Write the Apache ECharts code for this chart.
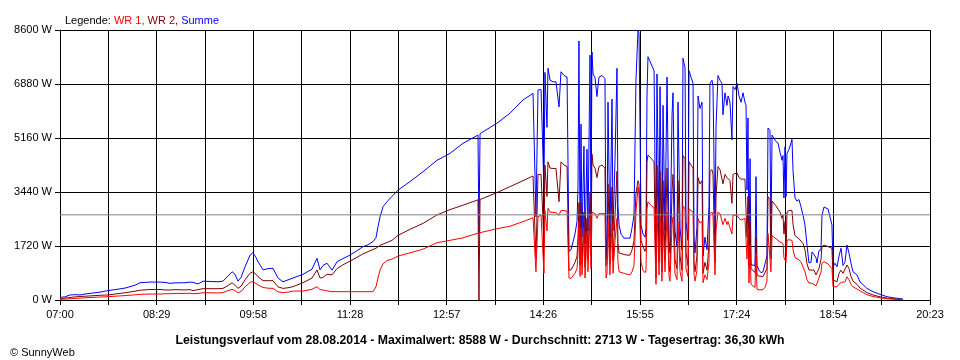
<!DOCTYPE html>
<html>
<head>
<meta charset="utf-8">
<script src="https://cdn.jsdelivr.net/npm/echarts@6/dist/echarts.min.js"></script>
<style>
html,body{margin:0;padding:0;background:#fff;}
#c{width:960px;height:360px;}
</style>
</head>
<body>
<div id="c"></div>
<script>
// minutes after 07:00
const times = [
0,4.6,9.2,13.8,18.5,23.1,27.7,36.9,44.3,50.8,60.0,69.2,73.8,83.1,92.3,96.9,101.5,106.1,115.4,120.0,
122.8,127.4,132.0,138.4,145.8,150.4,155.1,158.8,161.5,164.3,167.1,170.8,175.4,178.1,180.9,182.8,187.4,192.0,196.6,201.2,
205.8,210.4,215.1,224.3,232.6,237.2,240.0,242.7,246.4,251.1,255.7,261.2,267.7,274.1,279.7,284.3,288.9,291.7,293.5,295.4,
298.1,301.8,306.4,312.0,323.0,335.0,348.0,360.0,372.0,385.8,386.7,387.7,403.3,415.3,427.3,436.6,
438.4,439.3,441.2,444.0,445.8,446.7,447.6,449.5,450.4,452.3,455.0,457.8,459.6,460.6,462.4,465.2,468.0,469.8,471.7,473.5,
475.3,477.2,478.1,479.0,480.0,480.9,481.8,483.6,484.6,486.4,487.3,489.2,490.1,491.0,492.0,493.8,495.6,497.5,500.3,503.0,
504.0,504.9,505.8,507.6,509.5,510.4,512.3,514.1,515.0,516.0,517.8,520.6,523.3,526.1,528.0,529.8,531.6,533.5,534.4,536.3,
538.1,540.0,540.9,541.8,542.7,544.6,546.4,548.3,550.1,551.0,552.9,553.8,555.6,556.6,558.4,560.3,562.1,563.0,564.9,565.8,
567.6,569.5,570.4,572.3,574.1,575.0,576.9,577.8,579.6,580.6,582.4,584.3,585.2,586.1,587.9,588.9,590.7,592.6,593.5,595.3,
597.2,599.0,599.9,601.8,602.7,604.6,605.5,607.3,609.2,611.0,611.9,613.8,615.6,616.6,618.4,620.2,621.2,623.0,624.9,626.7,
628.6,630.4,632.2,633.2,634.1,635.0,635.9,636.9,637.8,639.6,641.5,642.4,643.3,645.2,647.0,648.9,650.7,652.5,653.5,655.3,
656.2,657.2,659.0,660.8,662.7,664.6,666.4,667.3,668.2,669.2,670.1,671.0,672.9,674.7,675.6,676.6,678.4,680.2,682.1,683.9,
685.8,687.6,689.5,691.3,693.2,694.1,695.9,697.8,698.7,700.5,702.4,703.3,705.2,707.0,708.9,710.7,712.5,713.5,715.3,717.2,
719.0,720.9,722.7,724.5,726.4,728.2,730.1,731.9,735.6,738.4,744.8,750.4,756.9,763.3,768.9,772.5,778.1
];
// Summe (blue)
const summe = [
85,100,160,170,160,190,210,250,300,330,380,470,550,570,570,560,530,545,550,570,
560,510,600,590,580,600,760,900,820,600,720,1060,1430,1510,1350,1220,960,1000,1010,700,
580,640,700,820,980,1330,960,1100,1170,950,1220,1320,1430,1570,1700,1760,1860,1990,2335,2650,
2970,3130,3300,3500,3770,4085,4450,4670,4990,5255,2120,5300,5630,5950,6370,6580,
6600,2650,6690,6700,6750,3500,7250,5500,7380,7000,6950,6950,6900,6150,7270,7150,7100,1550,1600,1850,
2100,2500,3600,8250,1900,5600,2000,4900,1800,4800,2200,7800,2500,7900,7200,7080,6480,7100,7150,7050,
1300,2100,6300,2000,6400,2200,4500,7380,3000,2400,2100,1970,1970,1970,2300,2710,7000,8588,8500,2400,
2100,2000,2300,6530,7750,7600,7450,7300,1200,7200,2000,6800,1500,6200,2200,7100,1900,1500,5900,6600,
2200,1700,6300,2300,1600,7700,7400,2500,1900,7300,7100,6900,2000,1500,2300,6500,6100,6300,1400,2000,
1600,3000,6900,7000,6800,2100,5500,7150,7000,6900,5900,6600,6200,6500,6300,5100,6800,6700,6900,6500,
6300,6600,6300,6200,3500,5800,1350,4500,1120,1120,1100,3930,1100,950,870,900,1150,1400,5480,5400,
2000,5250,5300,5050,5000,4700,4450,4600,3250,4880,3300,4670,4800,5000,5120,4100,3250,3150,3200,2970,
2700,2390,1750,1180,1200,1530,1450,1340,1180,1570,1600,2700,2960,2900,2900,2870,2390,1060,1170,1060,
1400,1650,1100,1200,1750,1500,1170,900,800,580,370,265,180,105,70,55,30
];
// WR 2 (dark red)
const wr2 = [
30,60,80,100,110,120,130,150,160,190,230,280,310,335,335,320,320,330,320,330,
300,330,360,360,360,370,460,550,470,370,440,650,850,900,820,740,615,615,615,420,
370,390,425,550,700,955,700,720,820,800,1000,1120,1240,1360,1470,1540,1610,1650,1700,1740,
1780,1830,1900,2060,2250,2440,2710,2880,3020,3190,0,3200,3420,3610,3800,3950,
3950,1330,4000,4000,4050,1800,4300,3300,4400,4200,4190,4190,4150,3130,4400,4300,4250,955,960,1000,
1190,1400,2000,3100,1100,3100,1150,2800,1050,2600,1300,3400,1400,4650,4300,4200,3900,4250,4300,4200,
1100,1200,3700,1150,3600,1250,2700,4100,1800,1500,1450,1450,1430,1430,1600,1900,3400,3800,3700,1900,
1700,1550,1650,4400,4620,4550,4480,4400,700,4300,1200,4100,900,3800,1300,4200,1100,900,3500,4000,
1300,1000,3800,1400,950,4600,4500,1500,1100,4400,4300,4200,1200,900,1400,3900,3700,3800,850,1200,
950,1800,4100,4150,4000,1200,3300,4250,4150,4100,3700,4000,3900,3950,3800,3080,4000,3950,4050,3900,
3850,3900,3850,3800,2000,3300,1060,2500,1000,950,880,2000,800,760,740,750,800,1000,3290,3200,
1300,3150,3100,3000,2900,2800,2600,2700,2100,2500,1400,2800,2850,2900,2850,2400,2050,2000,1950,1900,
1800,1600,1150,955,955,1000,950,800,740,1000,1300,1700,1750,1720,1700,1700,1650,640,600,580,
850,950,850,900,1115,1000,750,600,500,380,235,160,100,60,40,30,15
];
// WR 1 (red)
const wr1 = [
20,30,40,50,60,70,80,95,105,120,140,165,180,190,190,200,200,210,210,215,
200,210,230,230,225,235,300,340,300,230,270,420,560,590,520,480,400,375,370,260,
235,250,285,285,340,425,330,320,290,265,265,265,265,265,265,265,265,425,700,955,
1150,1260,1300,1400,1500,1620,1825,1900,1980,2130,2130,2145,2270,2350,2495,2620,
2630,900,2650,2700,2750,850,2850,2200,2920,2800,2790,2780,2770,2700,2850,2850,2830,700,690,750,
850,1000,1500,2500,750,2300,800,2200,700,2100,900,2700,1000,2800,2750,2750,2600,2750,2750,2750,
700,850,2500,800,2450,850,1900,2600,1200,900,850,850,820,800,900,1100,2800,3600,3400,1200,
950,870,950,2900,3130,3050,2980,2950,500,2900,800,2700,600,2500,900,2800,750,600,2400,2650,
850,650,2500,900,600,3000,2900,1000,750,2900,2850,2800,800,600,950,2600,2450,2500,550,800,
650,1200,2750,2800,2700,800,2200,2800,2750,2700,2400,2600,2400,2500,2450,2100,2700,2650,2700,2600,
2550,2600,2600,2600,1300,2300,540,1700,500,480,400,1500,340,320,320,330,400,600,2120,2100,
900,2050,2000,1950,1900,1850,1800,1800,1350,1400,1200,1900,1920,1950,1900,1600,1350,1300,1280,1200,
1050,900,650,540,540,560,500,450,420,700,900,1170,1220,1200,1150,1100,1000,425,420,420,
500,560,520,580,740,650,500,420,350,290,170,110,70,40,25,15,10
];
const xTickLabels = ["07:00","08:29","09:58","11:28","12:57","14:26","15:55","17:24","18:54","20:23"];
const yMax = 8600, yStep = 1720;
const xMax = 803, xSteps = 18;
const average = 2713;
const footer = "Leistungsverlauf vom 28.08.2014 - Maximalwert: 8588 W - Durchschnitt: 2713 W - Tagesertrag: 36,30 kWh";

const xStep = xMax / xSteps;
const mk = arr => times.map((t, i) => [t, arr[i]]);
const font = "Arial, 'Liberation Sans', sans-serif";

const chart = echarts.init(document.getElementById('c'), null, {renderer: 'canvas'});
chart.setOption({
  animation: false,
  backgroundColor: '#ffffff',
  textStyle: {fontFamily: font},
  title: [
    {text: footer, left: 'center', top: 330,
     textStyle: {fontSize: 12.25, fontWeight: 'bold', color: '#000', fontFamily: font}},
    {text: '\u00a9 SunnyWeb', left: 5, top: 342,
     textStyle: {fontSize: 11, fontWeight: 'normal', color: '#000', fontFamily: font}},
    {text: '{k|Legende: }{a|WR 1, }{b|WR 2, }{c|Summe}', left: 60, top: 10,
     textStyle: {fontSize: 11, fontWeight: 'normal', fontFamily: font,
       rich: {k: {color: '#000', fontSize: 11, fontFamily: font},
              a: {color: '#ff0000', fontSize: 11, fontFamily: font},
              b: {color: '#800000', fontSize: 11, fontFamily: font},
              c: {color: '#0000ff', fontSize: 11, fontFamily: font}}}}
  ],
  grid: {left: 60, right: 30, top: 30, bottom: 60, containLabel: false},
  xAxis: {
    type: 'value', min: 0, max: xMax, interval: xStep,
    axisLine: {show: true, lineStyle: {color: '#000', width: 1}},
    axisTick: {show: true, length: 5, lineStyle: {color: '#000', width: 1}},
    splitLine: {show: true, lineStyle: {color: '#000', width: 1}},
    axisLabel: {color: '#000', fontSize: 11, margin: 9, fontFamily: font,
      showMinLabel: true, showMaxLabel: true, hideOverlap: false,
      formatter: v => { const k = Math.round(v / xStep); return k % 2 === 0 ? (xTickLabels[k / 2] || '') : ''; }}
  },
  yAxis: {
    type: 'value', min: 0, max: yMax, interval: yStep,
    axisLine: {show: true, lineStyle: {color: '#000', width: 1}},
    axisTick: {show: true, length: 5, lineStyle: {color: '#000', width: 1}},
    splitLine: {show: true, lineStyle: {color: '#000', width: 1}},
    axisLabel: {color: '#000', fontSize: 11, margin: 8, fontFamily: font,
      formatter: v => String(Math.round(v)) + ' W'}
  },
  series: [
    {type: 'line', name: 'Summe', data: mk(summe), symbol: 'none', showSymbol: false,
     lineStyle: {color: '#0000ff', width: 1}, z: 2},
    {type: 'line', name: 'WR 2', data: mk(wr2), symbol: 'none', showSymbol: false,
     lineStyle: {color: '#800000', width: 1}, z: 3},
    {type: 'line', name: 'WR 1', data: mk(wr1), symbol: 'none', showSymbol: false,
     lineStyle: {color: '#ff0000', width: 1}, z: 4},
    {type: 'line', name: 'avg', data: [[0, average], [xMax, average]], symbol: 'none',
     lineStyle: {color: '#808080', width: 1}, z: 5, silent: true}
  ]
});
</script>
</body>
</html>
